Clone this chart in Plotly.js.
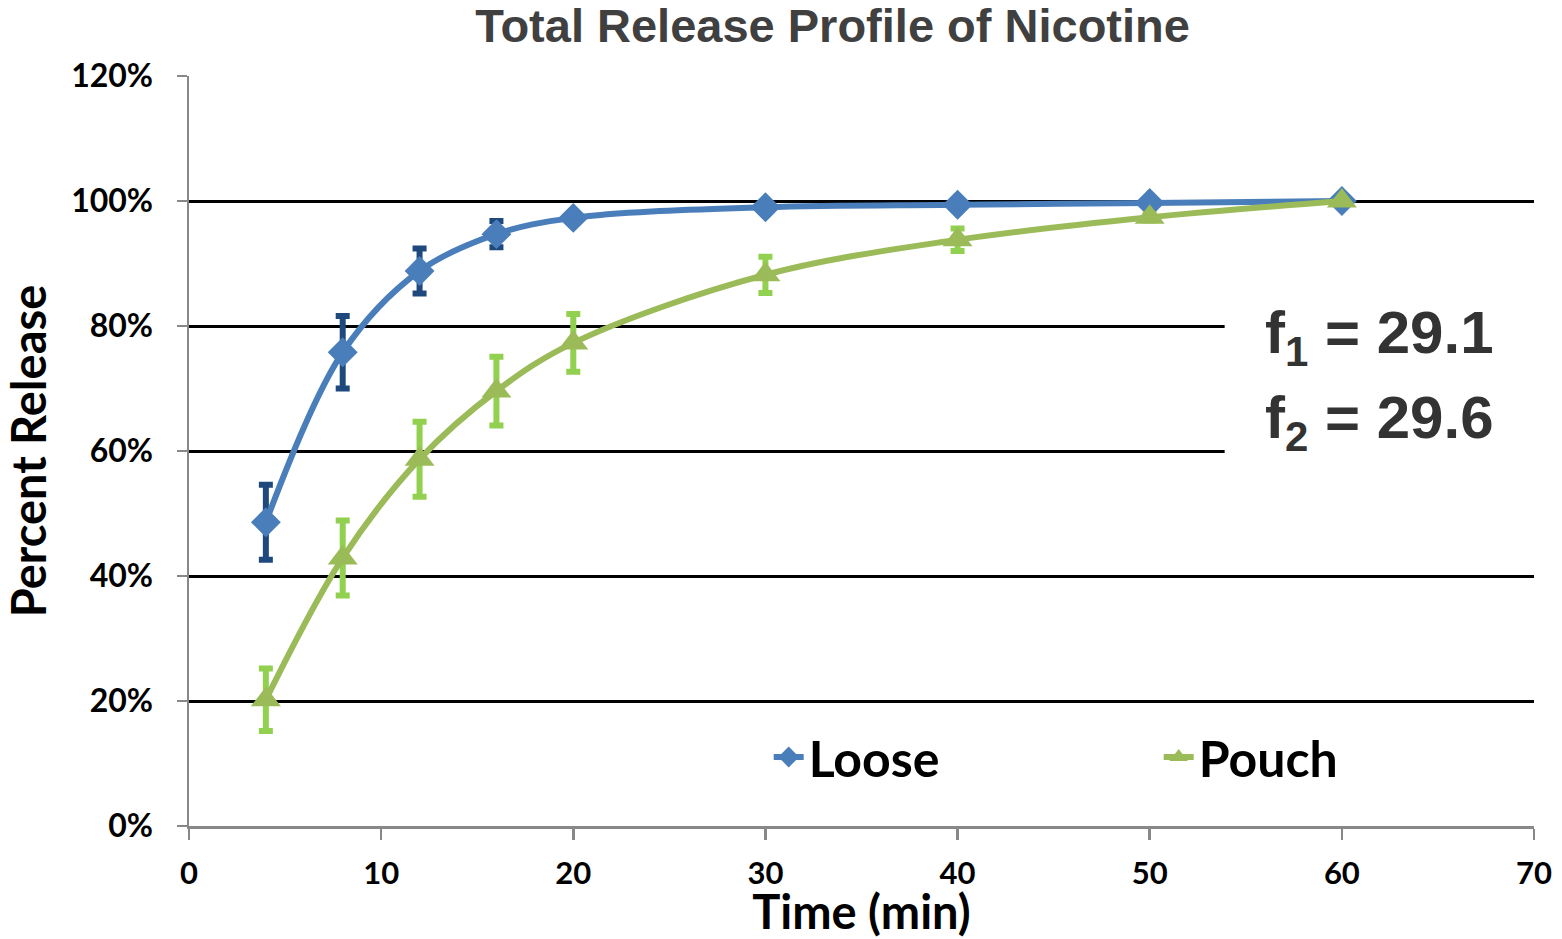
<!DOCTYPE html>
<html><head><meta charset="utf-8">
<script src="https://cdn.plot.ly/plotly-3.0.1.min.js"></script>
<style>html,body{margin:0;padding:0;background:#fff}#chart{width:1562px;height:939px}</style>
</head><body><div id="chart"></div>
<script>
const timeMin = [4, 8, 12, 16, 20, 30, 40, 50, 60];
const looseRelease = [0.486, 0.758, 0.888, 0.947, 0.973, 0.990, 0.994, 0.997, 1.000];
const looseError   = [0.060, 0.058, 0.036, 0.021, 0.005, 0.003, 0.002, 0.002, 0.000];
const pouchRelease = [0.202, 0.429, 0.587, 0.696, 0.773, 0.882, 0.938, 0.974, 1.000];
const pouchError   = [0.050, 0.060, 0.060, 0.055, 0.046, 0.029, 0.018, 0.005, 0.000];
const seriesNames = ['Loose', 'Pouch'];
const titleText = 'Total Release Profile of Nicotine';
const xTitle = 'Time (min)';
const yTitle = 'Percent Release';
const f1Text = 'f<sub>1</sub> = 29.1';
const f2Text = 'f<sub>2</sub> = 29.6';

const traces = [
  {
    x: timeMin, y: looseRelease, name: seriesNames[0], type: 'scatter', mode: 'lines+markers',
    line: {color: '#4a7ebb', width: 6, shape: 'spline', smoothing: 1},
    marker: {symbol: 'diamond', size: 23, color: '#4a7ebb'},
    error_y: {type: 'data', array: looseError, visible: true, color: '#1f497d', thickness: 6, width: 7}
  },
  {
    x: timeMin, y: pouchRelease, name: seriesNames[1], type: 'scatter', mode: 'lines+markers',
    line: {color: '#9bbb59', width: 6, shape: 'spline', smoothing: 1},
    marker: {symbol: 'triangle-up', size: 26, color: '#9bbb59'},
    error_y: {type: 'data', array: pouchError, visible: true, color: '#92d050', thickness: 6, width: 7}
  }
];

const layout = {
  width: 1562, height: 939,
  paper_bgcolor: '#fff', plot_bgcolor: '#fff',
  margin: {l: 189, r: 28, t: 76, b: 113, autoexpand: false},
  title: {text: titleText, font: {family: 'Liberation Sans, Arial, sans-serif', size: 47, color: '#404040', weight: 'bold'},
          xref: 'container', x: 0.533, xanchor: 'center', yref: 'container', y: 0.99, yanchor: 'top'},
  xaxis: {
    range: [0, 70], dtick: 10, tick0: 0, showgrid: false, zeroline: false,
    showline: true, linecolor: '#888', linewidth: 2.5,
    ticks: 'outside', ticklen: 11, tickwidth: 2.5, tickcolor: '#888',
    tickfont: {family: 'Lato, sans-serif', size: 31, color: '#000', weight: 'bold'},
    ticklabelstandoff: 7,
    title: {text: xTitle, font: {family: 'Lato, sans-serif', size: 47, color: '#000', weight: 'bold'}, standoff: 5}
  },
  yaxis: {
    range: [0, 1.2], dtick: 0.2, tick0: 0, tickformat: '.0%',
    showgrid: true, gridcolor: '#000', gridwidth: 3, zeroline: false,
    showline: true, linecolor: '#888', linewidth: 2.5,
    ticks: 'outside', ticklen: 10, tickwidth: 2.5, tickcolor: '#888',
    tickfont: {family: 'Lato, sans-serif', size: 32, color: '#000', weight: 'bold'},
    ticklabelstandoff: 17,
    title: {text: yTitle, font: {family: 'Lato, sans-serif', size: 47, color: '#000', weight: 'bold'}, standoff: 12}
  },
  showlegend: true,
  legend: {
    orientation: 'h', x: 0.431, xanchor: 'left', y: 0.092, yanchor: 'middle',
    bgcolor: 'rgba(0,0,0,0)', font: {family: 'Lato, sans-serif', size: 50, color: '#000', weight: 'bold'},
    entrywidth: 345, entrywidthmode: 'pixels'
  },
  shapes: [
    {type: 'rect', xref: 'x', yref: 'y', x0: 53.9, x1: 70, y0: 0.5, y1: 0.9, fillcolor: '#fff', line: {width: 0}, layer: 'between'}
  ],
  annotations: [
    {text: f1Text, xref: 'x', yref: 'y', x: 55.9, y: 0.782, xanchor: 'left', yanchor: 'middle', showarrow: false,
     font: {family: 'Liberation Sans, Arial, sans-serif', size: 60, color: '#333', weight: 'bold'}},
    {text: f2Text, xref: 'x', yref: 'y', x: 55.9, y: 0.647, xanchor: 'left', yanchor: 'middle', showarrow: false,
     font: {family: 'Liberation Sans, Arial, sans-serif', size: 60, color: '#333', weight: 'bold'}}
  ]
};

Plotly.newPlot('chart', traces, layout, {displayModeBar: false, staticPlot: true});
</script>
</body></html>
